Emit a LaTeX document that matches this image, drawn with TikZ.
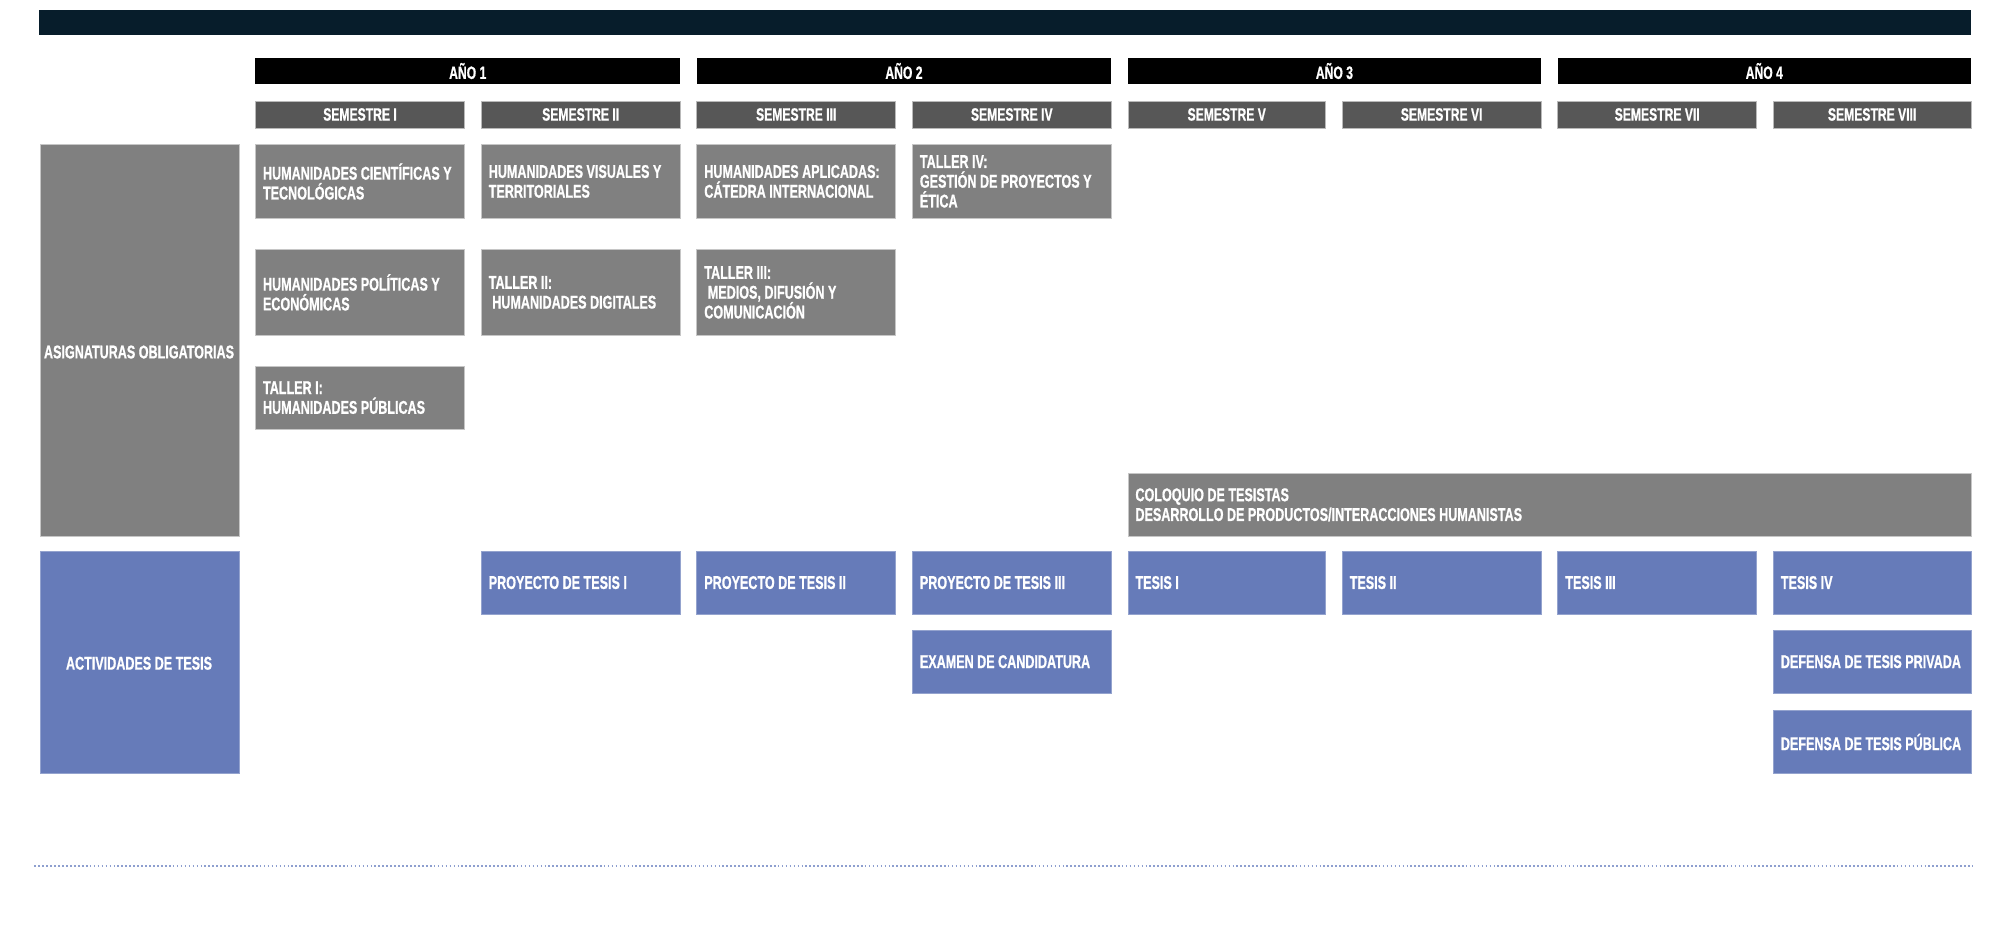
\documentclass[tikz,border=0pt]{standalone}
\usepackage{fontspec}
\setmainfont{Liberation Sans}[FakeStretch=0.68, FakeBold=0.8]
\definecolor{navy}{HTML}{071D2B}
\definecolor{semgray}{HTML}{575757}
\definecolor{boxgray}{HTML}{808080}
\definecolor{boxblue}{HTML}{667BB9}
\definecolor{dotblue}{HTML}{8E9FCF}
\tikzset{
  base/.style={rectangle, inner sep=0pt, anchor=north west, text=white},
  hfont/.style={font=\bfseries\fontsize{14}{16}\selectfont},
  topbar/.style={base, fill=navy},
  yearbar/.style={base, hfont, fill=black},
  sembar/.style={base, hfont, fill=semgray, draw=gray!55, line width=0.5pt},
  gbox/.style={base, fill=boxgray, draw=gray!45, line width=0.5pt},
  bbox/.style={base, fill=boxblue, draw=boxblue!70, line width=0.5pt},
  lbl/.style={rectangle, inner sep=0pt, anchor=west, align=left, text=white,
    font=\bfseries\fontsize{14.5}{15.5}\selectfont},
  clbl/.style={rectangle, inner sep=0pt, anchor=center, align=center, text=white,
    font=\bfseries\fontsize{14.5}{15.5}\selectfont},
  dotline/.style={draw=dotblue, line width=1.3pt, dash pattern=on 1.3pt off 1.8pt}
}
\newcommand\mkcell[7]{%
  \node[#2, minimum width=#5pt, minimum height=#6pt] (#1) at (#3,#4) {};
  \node[lbl] (#1-t) at ([xshift=6pt]#1.west) {#7};}
\begin{document}
\begin{tikzpicture}[x=1pt, y=-1pt]
\useasboundingbox (0,0) rectangle (1568,725.2);
% top bar
\node[topbar, minimum width=1515pt, minimum height=19pt] (top) at (30,8) {};
% years
\node[yearbar, minimum width=333pt, minimum height=21pt] (y1) at (200,45) {AÑO 1};
\node[yearbar, minimum width=325pt, minimum height=21pt] (y2) at (546,45) {AÑO 2};
\node[yearbar, minimum width=324pt, minimum height=21pt] (y3) at (884,45) {AÑO 3};
\node[yearbar, minimum width=324pt, minimum height=21pt] (y4) at (1221,45) {AÑO 4};
% semesters
\node[sembar, minimum width=164pt, minimum height=21pt] (s1) at (200,79) {SEMESTRE I};
\node[sembar, minimum width=156pt, minimum height=21pt] (s2) at (377,79) {SEMESTRE II};
\node[sembar, minimum width=156pt, minimum height=21pt] (s3) at (546,79) {SEMESTRE III};
\node[sembar, minimum width=156pt, minimum height=21pt] (s4) at (715,79) {SEMESTRE IV};
\node[sembar, minimum width=155pt, minimum height=21pt] (s5) at (884,79) {SEMESTRE V};
\node[sembar, minimum width=156pt, minimum height=21pt] (s6) at (1052,79) {SEMESTRE VI};
\node[sembar, minimum width=156pt, minimum height=21pt] (s7) at (1221,79) {SEMESTRE VII};
\node[sembar, minimum width=155pt, minimum height=21pt] (s8) at (1390,79) {SEMESTRE VIII};
% left column
\node[gbox, minimum width=156pt, minimum height=307pt] (asig) at (31,113) {};
\node[clbl] (asig-t) at (109,276) {ASIGNATURAS OBLIGATORIAS};
\node[bbox, minimum width=156pt, minimum height=174pt] (act) at (31,432) {};
\node[clbl] (act-t) at (109,520) {ACTIVIDADES DE TESIS};
% courses
\mkcell{c11}{gbox}{200}{113}{164}{58}{HUMANIDADES CIENTÍFICAS Y\\TECNOLÓGICAS}
\mkcell{c12}{gbox}{200}{195}{164}{68}{HUMANIDADES POLÍTICAS Y\\ECONÓMICAS}
\mkcell{c13}{gbox}{200}{287}{164}{49}{TALLER I:\\HUMANIDADES PÚBLICAS}
\mkcell{c21}{gbox}{377}{113}{156}{58}{HUMANIDADES VISUALES Y\\TERRITORIALES}
\mkcell{c22}{gbox}{377}{195}{156}{68}{TALLER II:\\\ HUMANIDADES DIGITALES}
\mkcell{c31}{gbox}{546}{113}{156}{58}{HUMANIDADES APLICADAS:\\CÁTEDRA INTERNACIONAL}
\mkcell{c32}{gbox}{546}{195}{156}{68}{TALLER III:\\\ MEDIOS, DIFUSIÓN Y\\COMUNICACIÓN}
\mkcell{c41}{gbox}{715}{113}{156}{58}{TALLER IV:\\GESTIÓN DE PROYECTOS Y\\ÉTICA}
\mkcell{colo}{gbox}{884}{371}{661}{49}{COLOQUIO DE TESISTAS\\DESARROLLO DE PRODUCTOS/INTERACCIONES HUMANISTAS}
% thesis activities
\mkcell{t2}{bbox}{377}{432}{156}{49}{PROYECTO DE TESIS I}
\mkcell{t3}{bbox}{546}{432}{156}{49}{PROYECTO DE TESIS II}
\mkcell{t4}{bbox}{715}{432}{156}{49}{PROYECTO DE TESIS III}
\mkcell{t5}{bbox}{884}{432}{155}{49}{TESIS I}
\mkcell{t6}{bbox}{1052}{432}{156}{49}{TESIS II}
\mkcell{t7}{bbox}{1221}{432}{156}{49}{TESIS III}
\mkcell{t8}{bbox}{1390}{432}{155}{49}{TESIS IV}
\mkcell{exam}{bbox}{715}{494}{156}{49}{EXAMEN DE CANDIDATURA}
\mkcell{defpriv}{bbox}{1390}{494}{155}{49}{DEFENSA DE TESIS PRIVADA}
\mkcell{defpub}{bbox}{1390}{557}{155}{49}{DEFENSA DE TESIS PÚBLICA}
% dotted rule
\coordinate (dl) at (27,679);
\coordinate (dr) at (1547,679);
\draw[dotline] (dl) -- (dr);
\end{tikzpicture}
\end{document}
